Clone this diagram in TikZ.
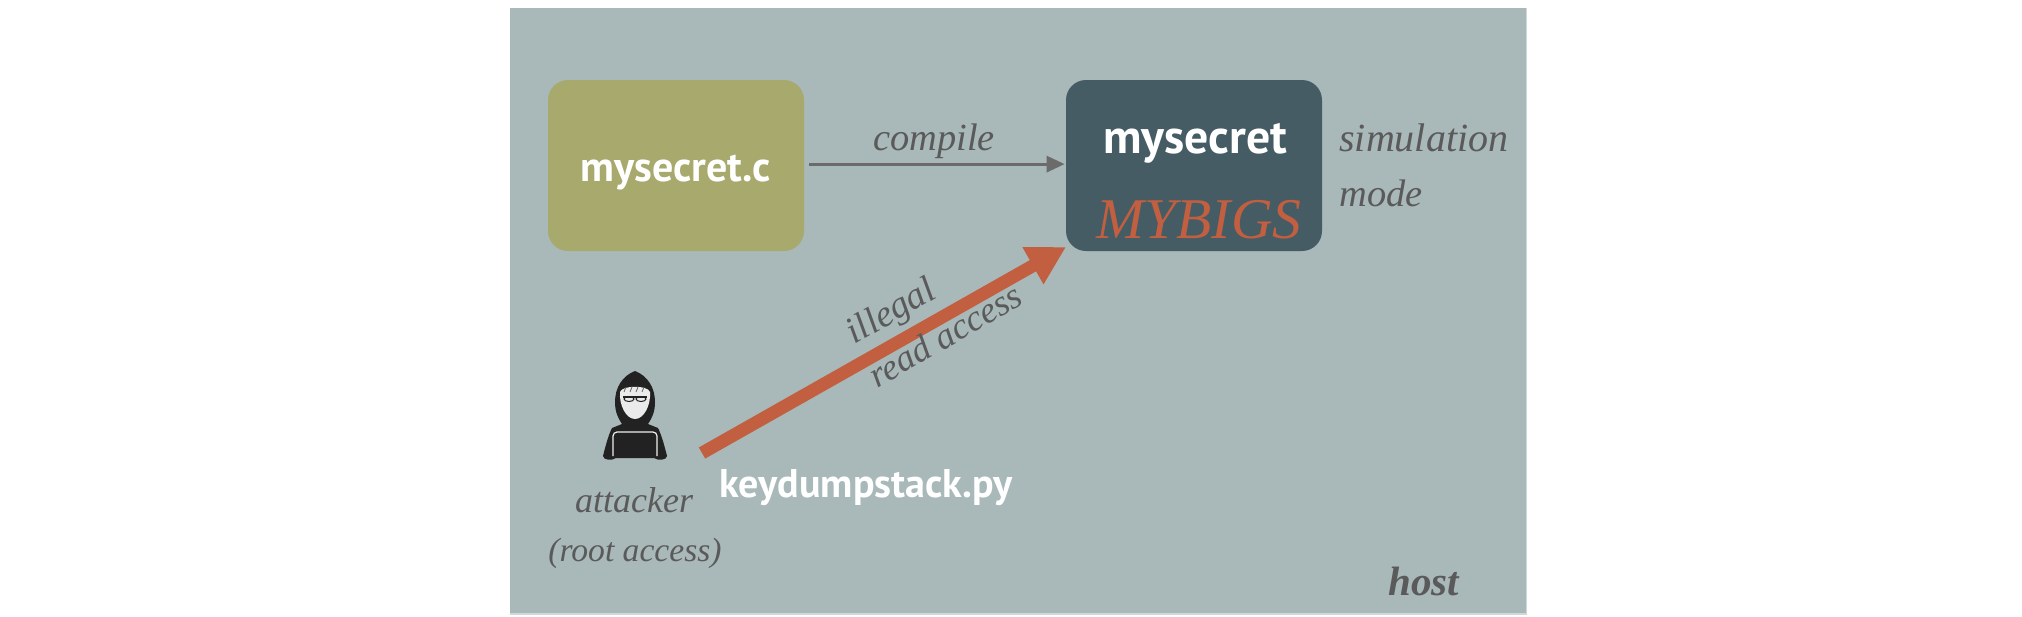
\documentclass[tikz,border=0pt]{standalone}
\usepackage{fontspec}
\setmainfont{Liberation Serif}
\newfontfamily\boxfont{PT Sans}
\usetikzlibrary{
arrows.meta,
positioning,
shapes.geometric
}
\definecolor{hostgrey}{HTML}{A9B8B8}
\definecolor{sourcegreen}{HTML}{A8A96C}
\definecolor{binaryblue}{HTML}{455C65}
\definecolor{attackred}{HTML}{C25F40}
\definecolor{notegrey}{HTML}{5A5A5A}
\definecolor{hackerblack}{HTML}{222222}
\tikzset{
  filebox/.style={rounded corners=10pt, minimum width=128pt, minimum height=85.5pt, inner sep=0pt},
  whitelabel/.style={text=white, font=\boxfont\bfseries\fontsize{#1}{#1}\selectfont, inner sep=0pt},
  note/.style={text=notegrey, font=\itshape\fontsize{#1}{#1}\selectfont, inner sep=0pt}
}

\begin{document}
\begin{tikzpicture}[x=.5pt,y=-.5pt]
\useasboundingbox (0,0) rectangle (2022,616);

\fill[white] (0,0) rectangle (2022,616);
\fill[hostgrey!55!white] (510,8) rectangle (1527,615);
\fill[hostgrey] (510,8) rectangle (1526,613); %host

\node[filebox, fill=sourcegreen] (source) at (676,165.5) {};
\node[whitelabel=21] (sourcename) at (676,173) {mysecret.c};

\node[filebox, fill=binaryblue] (binary) at (1194,165.5) {};
\node[whitelabel=23.9] (binaryname) at (1195,143) {mysecret};
\node[text=attackred, font=\itshape\fontsize{28.8}{29}\selectfont, inner sep=0pt] (mybigs) at (1199,220) {MYBIGS};

\draw[-{Triangle[length=9pt,width=8pt]}, draw=black!58, line width=1.6pt, shorten <=2.5pt, shorten >=.5pt] ([yshift=.7pt]source.east) -- ([yshift=.7pt]binary.west); %compile
\node[note=19.2] (compile) at (934,141) {compile};

\node[note=20, anchor=west] (simulation) at (1339,138) {simulation};
\node[note=19.2, anchor=west] (mode) at (1339,193) {mode};

%hacker
\fill[hackerblack] (635,371) .. controls (622,376) and (615,388) .. (615,402) .. controls (615,412) and (618,418) .. (622,424)
  -- (612,428) .. controls (608,436) and (605,448) .. (603,456) .. controls (603,460) and (612,461) .. (616,458)
  -- (654,458) .. controls (658,461) and (667,460) .. (667,456) .. controls (665,448) and (662,436) .. (658,428)
  -- (648,424) .. controls (652,418) and (655,412) .. (655,402) .. controls (655,388) and (648,376) .. (635,371) -- cycle;
\fill[white!92!black] (620,392) .. controls (622,385) and (648,385) .. (650,392) .. controls (651,405) and (644,419) .. (635,419) .. controls (626,419) and (619,405) .. (620,392) -- cycle;
\foreach \x in {624,630,...,646} %hair
{   \draw[hackerblack!70, line width=.4pt] (\x,392) -- (\x+2,387);
}
\draw[hackerblack, line width=.7pt] (623,397) -- (647,397);
\draw[hackerblack, line width=.5pt] (629,399) circle [x radius=5, y radius=2.5] (641,399) circle [x radius=5, y radius=2.5];
\draw[white!80!hostgrey, line width=.6pt, rounded corners=2pt] (613,456) -- (613,432) -- (657,432) -- (657,456);
\fill[hackerblack, rounded corners=1pt] (616,433) rectangle (654,453);
\node[note=18] (attacker) at (634,500) {attacker};
\node[note=16.8] (rootaccess) at (635,553) {(root access)};

\coordinate (attackstart) at (702,453);
\coordinate (attackend) at (1066,247);
\draw[-{Triangle[length=19pt,width=20pt]}, draw=attackred, fill=attackred, line width=6.4pt] (attackstart) -- (attackend);
\node[note=18.8, rotate=30] (illegal) at (892,313) {illegal};
\node[note=18.3, rotate=30] (readaccess) at (945,335) {read access};
\node[whitelabel=20] (script) at (866,488) {keydumpstack.py};

\node[note=20.5, font=\bfseries\itshape\fontsize{20.5}{20.5}\selectfont] (host) at (1424,581) {host};
\end{tikzpicture}
\end{document}
